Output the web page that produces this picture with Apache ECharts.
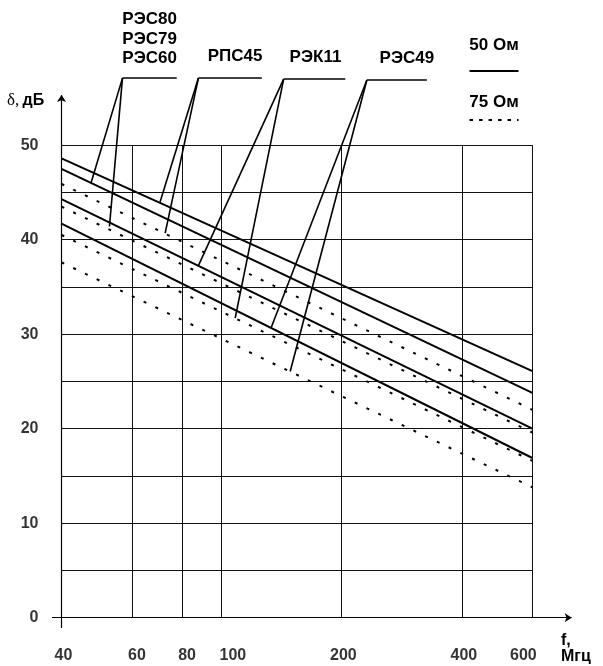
<!DOCTYPE html>
<html><head><meta charset="utf-8">
<script src="https://cdn.jsdelivr.net/npm/echarts@6/dist/echarts.min.js"></script>
<style>html,body{margin:0;padding:0;background:#fff}#c{width:603px;height:666px}</style>
</head><body><div id="c"></div>
<script>
// ---------- data ----------
const freqRange = [40, 600];                 // МГц, ends of every curve
const xTicks = [40, 60, 80, 100, 200, 400, 600];
const yTicks = [0, 10, 20, 30, 40, 50];
const yGridLevels = [5, 10, 15, 20, 25, 30, 35, 40, 45, 50];

// attenuation δ, дБ at f = 40 and 600 МГц
const rps45_50 = [48.6, 26.1];
const res80_50 = [47.5, 23.8];
const rek11_50 = [44.3, 20.0];
const res49_50 = [41.7, 16.9];
const rps45_75 = [45.9, 22.0];
const res80_75 = [43.5, 19.6];
const rek11_75 = [40.5, 16.6];
const res49_75 = [37.6, 13.8];

// callout labels and the curve points their leaders reach ([f, δ])
const calloutNames = ['РЭС80\nРЭС79\nРЭС60', 'РПС45', 'РЭК11', 'РЭС49'];
const calloutFrom = [[56.8, 57.1], [87.9, 57.1], [143.5, 57.0], [231.6, 56.9]];
const calloutTo   = [[77.6, 57.1], [126.6, 57.1], [204.6, 57.0], [327, 56.9]];
const calloutTargets = [
  [[47.4, 46.0], [52.7, 41.4]],
  [[70.5, 44.0], [72.6, 40.7]],
  [[87.9, 37.25], [108.6, 31.7]],
  [[133.6, 30.7], [149, 26.05]]
];
const legendNames = ['50 Ом', '75 Ом'];
const legendSpan = [418, 554];
const legendLevels = [57.85, 52.66];

// ---------- layout ----------
const PX_PER_DEC = 400.4, X40 = 61.5, Y0 = 617.7, PX_PER_UNIT = 9.45;
const X_MIN = 36, X_MAX = 800, Y_MIN = -3, Y_MAX = 60;
const gridLeft = X40 - PX_PER_DEC * Math.log10(40 / X_MIN);
const gridRight = 603 - (X40 + PX_PER_DEC * Math.log10(X_MAX / 40));
const gridTop = Y0 - Y_MAX * PX_PER_UNIT;
const gridBottom = 666 - (Y0 - Y_MIN * PX_PER_UNIT);

const FONT = "'Liberation Sans', Arial, sans-serif";
const BLACK = '#000';
const solid = { color: BLACK, width: 2, type: 'solid' };
const dashed = { color: BLACK, width: 2, type: [3, 10] };
const xLabelNudge = { 40: 2, 60: 5, 80: 5, 100: 12, 200: 2, 400: 2, 600: -9 };
const calloutNudge = [0, 5, 1, 10];

function pts(vals) { return freqRange.map((f, i) => [f, vals[i]]); }
function curve(name, vals, style) {
  return { type: 'line', name, data: pts(vals), symbol: 'none', silent: true,
           lineStyle: style, z: 4, animation: false };
}

const gridLines = []
  .concat(yGridLevels.map(v => [{ coord: [freqRange[0], v] }, { coord: [freqRange[1], v] }]))
  .concat(xTicks.slice(1).map(f => [{ coord: [f, 0] }, { coord: [f, 50] }]));

const calloutLines = [];
calloutNames.forEach((name, i) => {
  calloutLines.push([
    { coord: calloutFrom[i] },
    { coord: calloutTo[i] , label: { show: true, formatter: name, position: 'insideMiddleTop',
        distance: i === 0 ? 10 : 12, padding: [0, 0, 0, 2 * calloutNudge[i]],
        fontFamily: FONT, fontWeight: 'bold', fontSize: 17, lineHeight: 19.5, color: BLACK, align: 'center' } }
  ]);
  calloutTargets[i].forEach(t => calloutLines.push([{ coord: calloutFrom[i] }, { coord: t }]));
});
const legendLines = legendNames.map((n, i) => [
  { coord: [legendSpan[0], legendLevels[i]] },
  { coord: [legendSpan[1], legendLevels[i]],
    lineStyle: i === 0 ? { color: BLACK, width: 2, type: 'solid' } : { color: BLACK, width: 2, type: [3.5, 6] },
    label: { show: true, formatter: n, position: 'insideMiddleTop', distance: i === 0 ? 17 : 9,
             fontFamily: FONT, fontWeight: 'bold', fontSize: 17, color: BLACK } }
]);

const option = {
  animation: false,
  backgroundColor: '#fff',
  grid: { left: gridLeft, right: gridRight, top: gridTop, bottom: gridBottom, containLabel: false },
  xAxis: { type: 'log', min: X_MIN, max: X_MAX, show: false },
  yAxis: { type: 'value', min: Y_MIN, max: Y_MAX, show: false },
  graphic: [
    { type: 'text', left: 7, top: 92, style: { rich: {
        d: { fontFamily: "'Liberation Serif', 'Times New Roman', serif", fontSize: 17, fill: BLACK },
        b: { fontFamily: FONT, fontSize: 16, fontWeight: 'bold', fill: BLACK } },
        text: '{d|δ,} {b|дБ}' } },
    { type: 'text', left: 561, top: 633, style: { text: 'f,\nМгц', fontFamily: FONT, fontSize: 16,
        fontWeight: 'bold', lineHeight: 16, fill: BLACK } }
  ],
  series: [
    { type: 'line', name: 'grid', data: [], silent: true, z: 1,
      markLine: { silent: true, symbol: 'none', animation: false, label: { show: false },
        lineStyle: { color: '#111', width: 1, type: 'solid' }, data: gridLines } },
    { type: 'line', name: 'axes', data: [], silent: true, z: 2,
      markLine: { silent: true, symbol: ['none', 'arrow'], symbolSize: 7, animation: false, label: { show: false },
        lineStyle: { color: BLACK, width: 1.2, type: 'solid' },
        data: [
          [{ coord: [37.86, 0] }, { coord: [752, 0] }],
          [{ coord: [40, -1.1] }, { coord: [40, 55.3] }]
        ] } },
    { type: 'line', name: 'callouts', data: [], silent: true, z: 3,
      markLine: { silent: true, symbol: 'none', animation: false, label: { show: false },
        lineStyle: { color: BLACK, width: 1.6, type: 'solid' }, data: calloutLines.concat(legendLines) } },
    curve('РПС45 50 Ом', rps45_50, solid),
    curve('РЭС80 50 Ом', res80_50, solid),
    curve('РЭК11 50 Ом', rek11_50, solid),
    curve('РЭС49 50 Ом', res49_50, solid),
    curve('РПС45 75 Ом', rps45_75, dashed),
    curve('РЭС80 75 Ом', res80_75, dashed),
    curve('РЭК11 75 Ом', rek11_75, dashed),
    curve('РЭС49 75 Ом', res49_75, dashed),
    { type: 'scatter', name: 'xTickLabels', symbolSize: 0, silent: true, z: 5,
      data: xTicks.map(f => ({ value: [f, 0],
        label: { show: true, position: 'inside', offset: [xLabelNudge[f], 38], formatter: String(f),
                 fontFamily: FONT, fontWeight: 'bold', fontSize: 16, color: BLACK } })) },
    { type: 'scatter', name: 'yTickLabels', symbolSize: 0, silent: true, z: 5,
      data: yTicks.map(v => ({ value: [freqRange[0], v],
        label: { show: true, position: 'left', distance: 23, formatter: String(v),
                 fontFamily: FONT, fontWeight: 'bold', fontSize: 16, color: BLACK } })) }
  ]
};
const chart = echarts.init(document.getElementById('c'));
chart.setOption(option);
</script></body></html>
